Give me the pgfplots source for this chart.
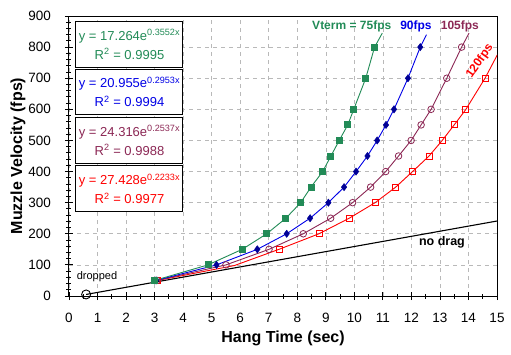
\documentclass[border=0pt]{standalone}
\usepackage{pgfplots}
\pgfplotsset{compat=1.18}
\usepackage{fontspec}
\setmainfont{Liberation Sans}
\definecolor{cgreen}{RGB}{34,139,87}
\definecolor{cblue}{RGB}{0,0,230}
\definecolor{cnavy}{RGB}{0,0,150}
\definecolor{cpurple}{RGB}{140,40,85}
\definecolor{cred}{RGB}{255,0,0}
\begin{document}
\begin{tikzpicture}
\path[use as bounding box] (-69bp,-59bp) rectangle (442bp,296bp);
\begin{axis}[
  at={(0,0)}, anchor=south west,
  scale only axis, width=428bp, height=280bp,
  xmin=0, xmax=15, ymin=0, ymax=900,
  xtick={0,1,...,15}, ytick={0,100,...,900},
  minor x tick num=1, minor y tick num=4,
  tick align=center, major tick length=8bp, minor tick length=5bp,
  xtick pos=bottom, ytick pos=left,
  grid=major,
  major grid style={gray!55, line width=0.6bp, dash pattern=on 4bp off 4bp},
  tick style={black, line width=0.8bp},
  axis line style={black, line width=1bp},
  /pgf/number format/assume math mode=true,
  ticklabel style={font=\fontsize{13.5bp}{16bp}\selectfont, inner sep=0pt},
  xticklabel style={anchor=center, yshift=-18bp},
  yticklabel style={anchor=east, xshift=-14bp},
  xlabel={Hang Time (sec)}, ylabel={Muzzle Velocity (fps)},
  label style={font=\bfseries\fontsize{16bp}{19bp}\selectfont},
  xlabel style={at={(axis description cs:0.5,-0.15)}, anchor=center},
  ylabel style={at={(axis description cs:-0.119,0.5)}, anchor=center},
]
% no drag
\addplot[black, line width=1.1bp] coordinates {(0.6,5) (15,241)};
\addplot[only marks, mark=o, mark size=4.5bp, black, mark options={line width=0.9bp}] coordinates {(0.6,5)};
% 120 fps
\addplot[cred, line width=0.9bp, mark=square, mark size=3bp, mark options={fill=white, line width=0.9bp}, mark indices={1,3,4,5,6,7,8,9,10,11,12,13}]
 coordinates {(3.1,50) (5.8,98) (7.36,150) (8.76,200) (9.82,250) (10.73,300) (11.45,350) (12.04,400) (12.62,450) (13.08,500) (13.5,550) (13.91,600) (14.58,700) (15.04,780)};
% 105 fps
\addplot[cpurple, line width=0.9bp, mark=o, mark size=3.3bp, mark options={fill=white, line width=0.8bp}, mark indices={1,...,14}]
 coordinates {(3.08,50) (5.5,100) (7.01,150) (8.21,200) (9.17,250) (9.94,300) (10.57,350) (11.1,400) (11.55,450) (11.99,500) (12.34,550) (12.69,600) (13.24,700) (13.76,800) (14.02,845)};
% 90 fps
\addplot[cblue, line width=0.9bp, mark=diamond*, mark size=3.6bp, mark options={fill=cnavy, draw=cnavy, line width=0.5bp}, mark indices={1,...,14}]
 coordinates {(3.05,50) (5.17,100) (6.6,150) (7.63,200) (8.45,250) (9.09,300) (9.64,350) (10.06,400) (10.46,450) (10.8,500) (11.11,550) (11.39,600) (11.88,700) (12.31,800) (12.53,840)};
% 75 fps
\addplot[cgreen, line width=0.9bp, mark=square*, mark size=3bp, mark options={fill=cgreen, draw=cgreen}, mark indices={1,...,14}]
 coordinates {(3,50) (4.87,100) (6.07,150) (6.93,200) (7.6,250) (8.12,300) (8.48,350) (8.89,400) (9.18,450) (9.47,500) (9.77,550) (9.98,600) (10.4,700) (10.71,800) (10.98,845)};

% trendline boxes
\draw[black, line width=1bp, fill=white] (axis cs:0.245,881.7) rectangle (axis cs:3.995,735);
\draw[black, line width=1bp, fill=white] (axis cs:0.245,728.7) rectangle (axis cs:3.995,581.8);
\draw[black, line width=1bp, fill=white] (axis cs:0.245,574.4) rectangle (axis cs:3.995,426.5);
\draw[black, line width=1bp, fill=white] (axis cs:0.245,418.8) rectangle (axis cs:3.995,270.9);
\node[align=center, text=cgreen, font=\fontsize{13bp}{19bp}\selectfont] at (axis cs:2.12,808.4) {y = 17.264e\textsuperscript{0.3552x}\\R\textsuperscript{2} = 0.9995};
\node[align=center, text=cblue, font=\fontsize{13bp}{19bp}\selectfont] at (axis cs:2.12,655.2) {y = 20.955e\textsuperscript{0.2953x}\\R\textsuperscript{2} = 0.9994};
\node[align=center, text=cpurple, font=\fontsize{13bp}{19bp}\selectfont] at (axis cs:2.12,500.5) {y = 24.316e\textsuperscript{0.2537x}\\R\textsuperscript{2} = 0.9988};
\node[align=center, text=cred, font=\fontsize{13bp}{19bp}\selectfont] at (axis cs:2.12,344.9) {y = 27.428e\textsuperscript{0.2233x}\\R\textsuperscript{2} = 0.9977};

% labels
\node[text=cgreen, font=\bfseries\fontsize{12bp}{14bp}\selectfont] at (axis cs:9.91,866) {Vterm = 75fps};
\node[text=cblue, font=\bfseries\fontsize{12bp}{14bp}\selectfont] at (axis cs:12.16,866) {90fps};
\node[text=cpurple, font=\bfseries\fontsize{12bp}{14bp}\selectfont] at (axis cs:13.7,866) {105fps};
\node[text=cred, rotate=55, font=\bfseries\fontsize{12bp}{14bp}\selectfont] at (axis cs:14.4,755) {120fps};
\node[text=black, font=\bfseries\fontsize{12.5bp}{14bp}\selectfont] at (axis cs:13.07,173) {no drag};
\node[text=black, font=\fontsize{11bp}{13bp}\selectfont] at (axis cs:0.98,62) {dropped};
\end{axis}
\end{tikzpicture}
\end{document}
